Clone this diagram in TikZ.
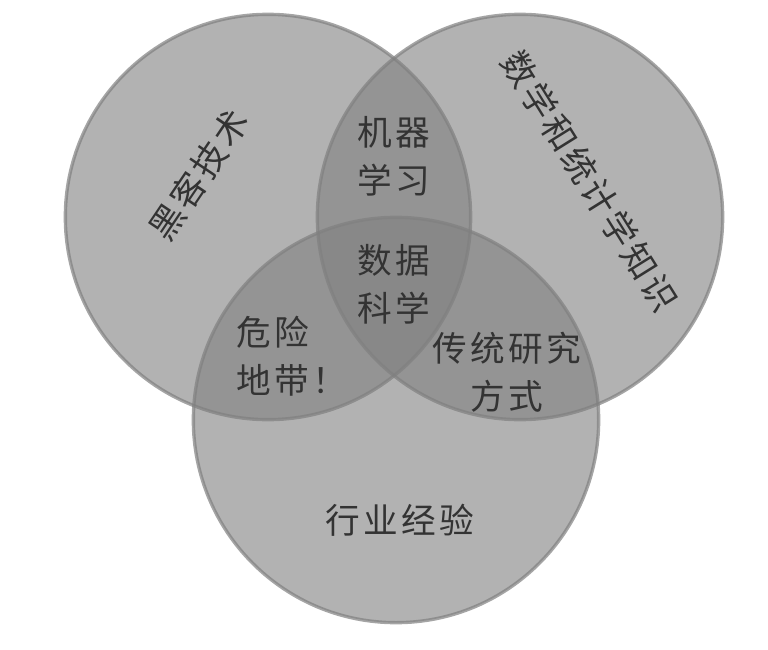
\documentclass[tikz,border=0pt]{standalone}
\usepackage{fontspec}
\setmainfont{Noto Sans CJK SC}
\newcommand\vennfont{\fontsize{26}{36}\selectfont\addfontfeature{LetterSpace=9}}
\tikzset{
    area/.style={draw=black!50, draw opacity=0.7, circle, fill=gray, fill opacity=0.6, line width=2.5pt, minimum size=304pt},
    label/.style={text=black!80, font=\vennfont, align=center}
}
\begin{document}
\begin{tikzpicture}[x=0.75pt,y=-0.75pt]
    \useasboundingbox[fill=white] (0,0) rectangle (768,650);
    %   Define 3 circles that overlap
    \node[area] (hacker) at (268,217) {};
    \node[area] (stats) at (520,217) {};
    \node[area] (domain) at (396,420) {};
    %   Texts of the single areas
    \node[label, rotate=56] (hackertext) at (199,175) {黑客技术};
    \node[label, rotate=-58] (statstext) at (590,181) {数学和统计学知识};
    \node[label] (domaintext) at (400,520) {行业经验};
    %   Texts of the overlaps
    \node[label] (ml) at (394,156) {机器\\学习};
    \node[label] (ds) at (394,284) {数据\\科学};
    \node[label, align=left] (danger) at (292,356) {危险\\地带！};
    \node[label] (research) at (507,372) {传统研究\\方式};
\end{tikzpicture}
\end{document}
